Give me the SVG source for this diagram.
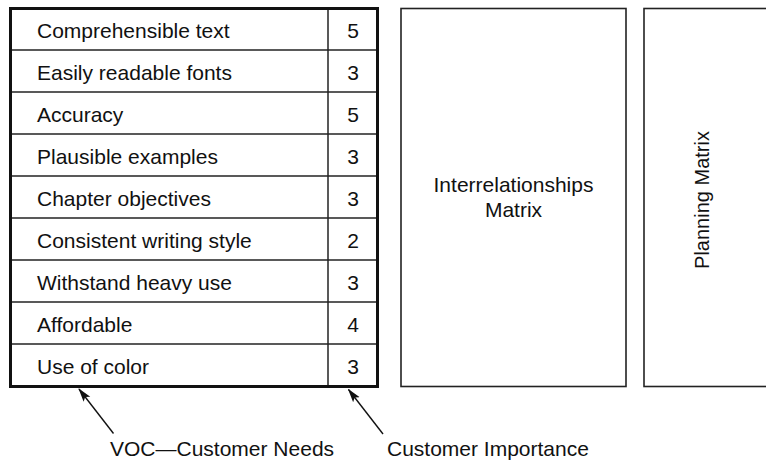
<svg xmlns="http://www.w3.org/2000/svg" width="766" height="462" viewBox="0 0 766 462">
<style>
text{font-family:"Liberation Sans",Arial,Helvetica,sans-serif;font-size:21px;fill:#111}
.num{text-anchor:middle}
.mid{text-anchor:middle}
.grid{stroke:#222;stroke-width:1.5;fill:none}
.outer{stroke:#111;stroke-width:3;fill:none}
.box{stroke:#222;stroke-width:1.6;fill:#fff}
.conn{stroke:#111;stroke-width:1.4;fill:none}
</style>
<defs>
<marker id="ah" viewBox="0 0 14 10" refX="13" refY="5" markerWidth="14" markerHeight="10" markerUnits="userSpaceOnUse" orient="auto">
<path d="M0,0.8 L14,5 L0,9.2 L3,5 Z" fill="#111"/>
</marker>
</defs>
<g id="voc-table">
<g class="grid">
<line x1="328" y1="8.5" x2="328" y2="386.5"/>
<line x1="10.5" y1="50" x2="377.5" y2="50"/>
<line x1="10.5" y1="92" x2="377.5" y2="92"/>
<line x1="10.5" y1="134" x2="377.5" y2="134"/>
<line x1="10.5" y1="176" x2="377.5" y2="176"/>
<line x1="10.5" y1="218" x2="377.5" y2="218"/>
<line x1="10.5" y1="260" x2="377.5" y2="260"/>
<line x1="10.5" y1="302" x2="377.5" y2="302"/>
<line x1="10.5" y1="344" x2="377.5" y2="344"/>
</g>
<rect class="outer" x="10.5" y="8.5" width="367" height="378"/>
<text x="37" y="38">Comprehensible text</text>
<text x="37" y="80">Easily readable fonts</text>
<text x="37" y="122">Accuracy</text>
<text x="37" y="164">Plausible examples</text>
<text x="37" y="206">Chapter objectives</text>
<text x="37" y="248">Consistent writing style</text>
<text x="37" y="290">Withstand heavy use</text>
<text x="37" y="332">Affordable</text>
<text x="37" y="374">Use of color</text>
<text class="num" x="353" y="38">5</text>
<text class="num" x="353" y="80">3</text>
<text class="num" x="353" y="122">5</text>
<text class="num" x="353" y="164">3</text>
<text class="num" x="353" y="206">3</text>
<text class="num" x="353" y="248">2</text>
<text class="num" x="353" y="290">3</text>
<text class="num" x="353" y="332">4</text>
<text class="num" x="353" y="374">3</text>
</g>
<g id="interrelationships">
<rect class="box" x="401" y="8.5" width="225" height="378"/>
<text class="mid" x="513.5" y="192">Interrelationships</text>
<text class="mid" x="513.5" y="217">Matrix</text>
</g>
<g id="planning">
<rect class="box" x="644" y="8.5" width="130" height="378"/>
<text class="mid" style="font-size:20px" transform="translate(709 200) rotate(-90)" x="0" y="0">Planning Matrix</text>
</g>
<g id="connectors">
<line class="conn" x1="113.5" y1="433.5" x2="79" y2="389" marker-end="url(#ah)"/>
<line class="conn" x1="383" y1="434" x2="348.5" y2="389.5" marker-end="url(#ah)"/>
</g>
<g id="labels">
<text x="110" y="456">VOC—Customer Needs</text>
<text x="387" y="456">Customer Importance</text>
</g>
</svg>
